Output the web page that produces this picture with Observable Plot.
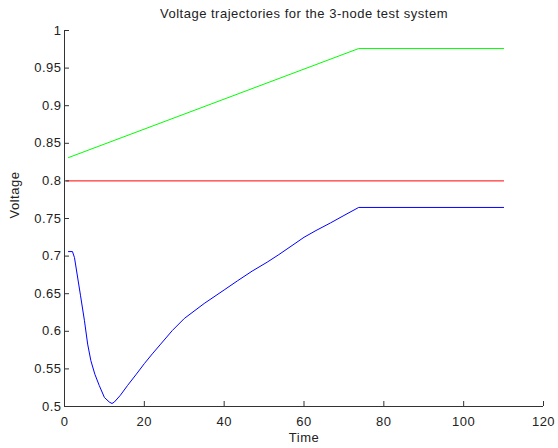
<!DOCTYPE html>
<html>
<head>
<meta charset="utf-8">
<script src="https://cdn.jsdelivr.net/npm/d3@7"></script>
<script src="https://cdn.jsdelivr.net/npm/@observablehq/plot@0.6"></script>
<style>
  html, body { margin: 0; padding: 0; background: #fff; }
  #chart { width: 558px; height: 448px; }
  svg { font-family: "Liberation Sans", Arial, sans-serif; letter-spacing: 0.5px; }
</style>
</head>
<body>
<div id="chart"></div>
<script>
const titleText = "Voltage trajectories for the 3-node test system";
const xLabel = "Time";
const yLabel = "Voltage";
const xTicks = [0, 20, 40, 60, 80, 100, 120];
const yTicks = [0.5, 0.55, 0.6, 0.65, 0.7, 0.75, 0.8, 0.85, 0.9, 0.95, 1];

const greenT = [1, 73.7, 110];
const greenV = [0.831, 0.976, 0.976];

const redT = [0.5, 110];
const redV = [0.8, 0.8];

const blueT = [1, 2, 2.5, 4, 5, 5.8, 6.6, 7.6, 8.7, 10, 11.2, 11.9, 12.5, 14, 15.8, 18, 20, 22, 24.1, 27, 30, 35, 40, 43.3, 47, 50.8, 53.7, 57, 60, 63, 66.6, 70, 73.7, 110];
const blueV = [0.706, 0.706, 0.698, 0.648, 0.614, 0.583, 0.561, 0.543, 0.528, 0.512, 0.506, 0.504, 0.506, 0.515, 0.528, 0.543, 0.557, 0.570, 0.583, 0.601, 0.617, 0.637, 0.655, 0.667, 0.680, 0.692, 0.702, 0.714, 0.725, 0.734, 0.744, 0.754, 0.7647, 0.7647];

const toRows = (ts, vs) => ts.map((t, i) => ({t, v: vs[i]}));

const axisColor = "#333";
const chart = Plot.plot({
  width: 558,
  height: 448,
  marginLeft: 64,
  marginRight: 15,
  marginTop: 30,
  marginBottom: 42,
  style: {fontSize: "13px", fontFamily: "'Liberation Sans', Arial, sans-serif", color: "#222", background: "#fff"},
  x: {domain: [0, 120]},
  y: {domain: [0.5, 1]},
  marks: [
    Plot.line(toRows(greenT, greenV), {x: "t", y: "v", stroke: "#00ff00", strokeWidth: 1}),
    Plot.line(toRows(redT, redV), {x: "t", y: "v", stroke: "#ff0000", strokeWidth: 1}),
    Plot.line(toRows(blueT, blueV), {x: "t", y: "v", stroke: "#0000ff", strokeWidth: 1}),
    Plot.ruleY([0.5], {stroke: axisColor}),
    Plot.ruleX([0], {stroke: axisColor}),
    Plot.axisX(xTicks, {tickSize: -5, stroke: axisColor, tickPadding: 15, label: null, fontSize: 13}),
    Plot.axisY(yTicks, {tickSize: -5, stroke: axisColor, tickPadding: 8, label: null, fontSize: 13, tickFormat: d => String(d)}),
    Plot.text([xLabel], {frameAnchor: "bottom", dy: 35, fontSize: 13, fill: "#222"}),
    Plot.text([yLabel], {frameAnchor: "left", dx: -50, rotate: -90, fontSize: 13, fill: "#222"}),
    Plot.text([titleText], {frameAnchor: "top", dy: -22, fontSize: 13, fill: "#222"})
  ]
});
document.getElementById("chart").appendChild(chart);
</script>
</body>
</html>
